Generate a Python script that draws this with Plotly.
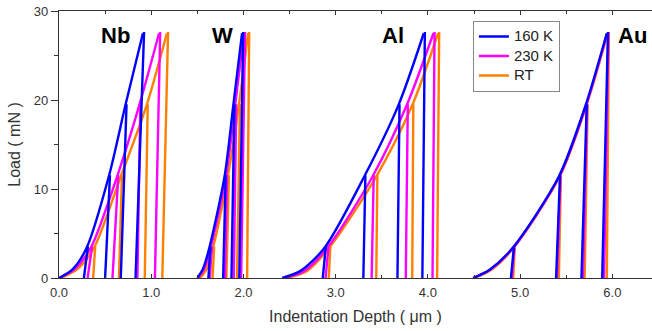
import plotly.graph_objects as go

# ---------------- data ----------------
temps = ["160 K", "230 K", "RT"]
colors = ["#0000FF", "#FF00FF", "#FF8000"]
materials = ["Nb", "W", "Al", "Au"]
peak_loads = [3.4, 11.4, 19.4, 27.5]          # mN, the four indents
hold_creep = 0.012                              # um, depth gained during hold

# start depth of each loading curve (offset per material), [160K, 230K, RT]
start_Nb = [0.00, 0.00, 0.02]
start_W = [1.50, 1.51, 1.53]
start_Al = [2.42, 2.45, 2.47]
start_Au = [4.49, 4.49, 4.50]

# one low-load point on each loading curve (depth, load)
low_Nb = [(0.15, 1.0), (0.17, 1.0), (0.20, 1.0)]
low_W = [(1.56, 1.0), (1.575, 1.0), (1.60, 1.0)]
low_Al = [(2.62, 0.8), (2.66, 0.8), (2.69, 0.8)]
low_Au = [(4.67, 0.93), (4.675, 0.93), (4.685, 0.9)]

# depth at peak load of each indent
peak_Nb = [[0.30, 0.54, 0.72, 0.91], [0.345, 0.63, 0.87, 1.085], [0.38, 0.67, 0.95, 1.17]]
peak_W = [[1.63, 1.795, 1.89, 1.985], [1.645, 1.81, 1.91, 2.005], [1.67, 1.83, 1.95, 2.05]]
peak_Al = [[2.88, 3.31, 3.68, 3.955], [2.91, 3.40, 3.77, 4.06], [2.93, 3.44, 3.83, 4.11]]
peak_Au = [[4.92, 5.42, 5.71, 5.94], [4.925, 5.425, 5.715, 5.945], [4.93, 5.43, 5.72, 5.95]]

# residual depth after unloading
resid_Nb = [[0.27, 0.50, 0.67, 0.83], [0.31, 0.58, 0.85, 1.04], [0.37, 0.65, 0.93, 1.12]]
resid_W = [[1.62, 1.78, 1.87, 1.955], [1.635, 1.80, 1.895, 1.975], [1.665, 1.815, 1.93, 2.04]]
resid_Al = [[2.86, 3.30, 3.67, 3.94], [2.89, 3.39, 3.76, 4.05], [2.925, 3.44, 3.83, 4.10]]
resid_Au = [[4.90, 5.39, 5.665, 5.89], [4.91, 5.40, 5.68, 5.91], [4.925, 5.42, 5.70, 5.94]]

label_x = [0.615, 1.775, 3.62, 6.22]
label_y = [27.2, 27.2, 27.2, 27.2]

# ---------------- figure ----------------
starts = [start_Nb, start_W, start_Al, start_Au]
lows = [low_Nb, low_W, low_Al, low_Au]
peaks = [peak_Nb, peak_W, peak_Al, peak_Au]
resids = [resid_Nb, resid_W, resid_Al, resid_Au]

fig = go.Figure()
LW = 2.4
for ti in [2, 1, 0]:  # RT drawn first, 160 K on top
    for mi in range(len(materials)):
        h0 = starts[mi][ti]
        lx, ly = lows[mi][ti]
        xs = [h0, lx] + peaks[mi][ti]
        ys = [0, ly] + peak_loads
        fig.add_trace(go.Scatter(x=xs, y=ys, mode="lines",
                                 line=dict(color=colors[ti], width=LW, shape="spline", smoothing=0.8),
                                 showlegend=False, hoverinfo="skip"))
        ux, uy = [], []
        for k in range(4):
            p = peaks[mi][ti][k]
            ux += [p, p + hold_creep, resids[mi][ti][k], None]
            uy += [peak_loads[k], peak_loads[k], 0, None]
        fig.add_trace(go.Scatter(x=ux, y=uy, mode="lines",
                                 line=dict(color=colors[ti], width=LW),
                                 showlegend=False, hoverinfo="skip"))

# legend entries
for ti in range(3):
    fig.add_trace(go.Scatter(x=[None], y=[None], mode="lines",
                             name='<span style="font-size:15px">%s</span>' % temps[ti],
                             line=dict(color=colors[ti], width=2.4), legendrank=ti + 1))

for mi, m in enumerate(materials):
    fig.add_annotation(x=label_x[mi], y=label_y[mi], text="<b>%s</b>" % m, showarrow=False,
                       xanchor="center", yanchor="middle",
                       font=dict(family="Liberation Sans, Arial", size=22, color="black"))

axis_font = dict(family="Liberation Sans, Arial", size=13, color="#333333")
fig.update_layout(
    width=652, height=331,
    margin=dict(l=59, r=0, t=11, b=53, autoexpand=False),
    paper_bgcolor="white", plot_bgcolor="white",
    font=dict(family="Liberation Sans, Arial", color="#333333"),
    showlegend=True,
    legend=dict(x=0.698, y=0.9635, xanchor="left", yanchor="top",
                bordercolor="#888888", borderwidth=1, bgcolor="white",
                font=dict(family="Liberation Sans, Arial", size=12.7, color="#222222"),
                tracegroupgap=0, itemwidth=30),
    xaxis=dict(range=[0, 6.43], dtick=1, tickformat=".1f", ticks="inside", ticklen=4,
               tickcolor="#333333", showline=True, linecolor="#333333", linewidth=1.2,
               mirror="ticks", showgrid=False, zeroline=False, tickfont=axis_font,
               automargin=False, ticklabelstandoff=2,
               minor=dict(dtick=0.5, ticks="inside", ticklen=3, tickcolor="#333333"),
               title=dict(text="Indentation Depth ( μm )", standoff=12,
                          font=dict(family="Liberation Sans, Arial", size=16, color="#333333"))),
    yaxis=dict(range=[0, 30], dtick=10, ticks="outside", ticklen=7, tickcolor="#333333",
               showline=True, linecolor="#333333", linewidth=1.2, mirror=False,
               showgrid=False, zeroline=False, tickfont=axis_font, automargin=False,
               minor=dict(dtick=5, ticks="outside", ticklen=4, tickcolor="#333333"),
               title=dict(text="Load ( mN )", standoff=9,
                          font=dict(family="Liberation Sans, Arial", size=16, color="#333333"))),
)

fig.write_html("out.html", config={"displayModeBar": False},
               post_script="document.body.style.margin='0';document.body.style.padding='0';")
